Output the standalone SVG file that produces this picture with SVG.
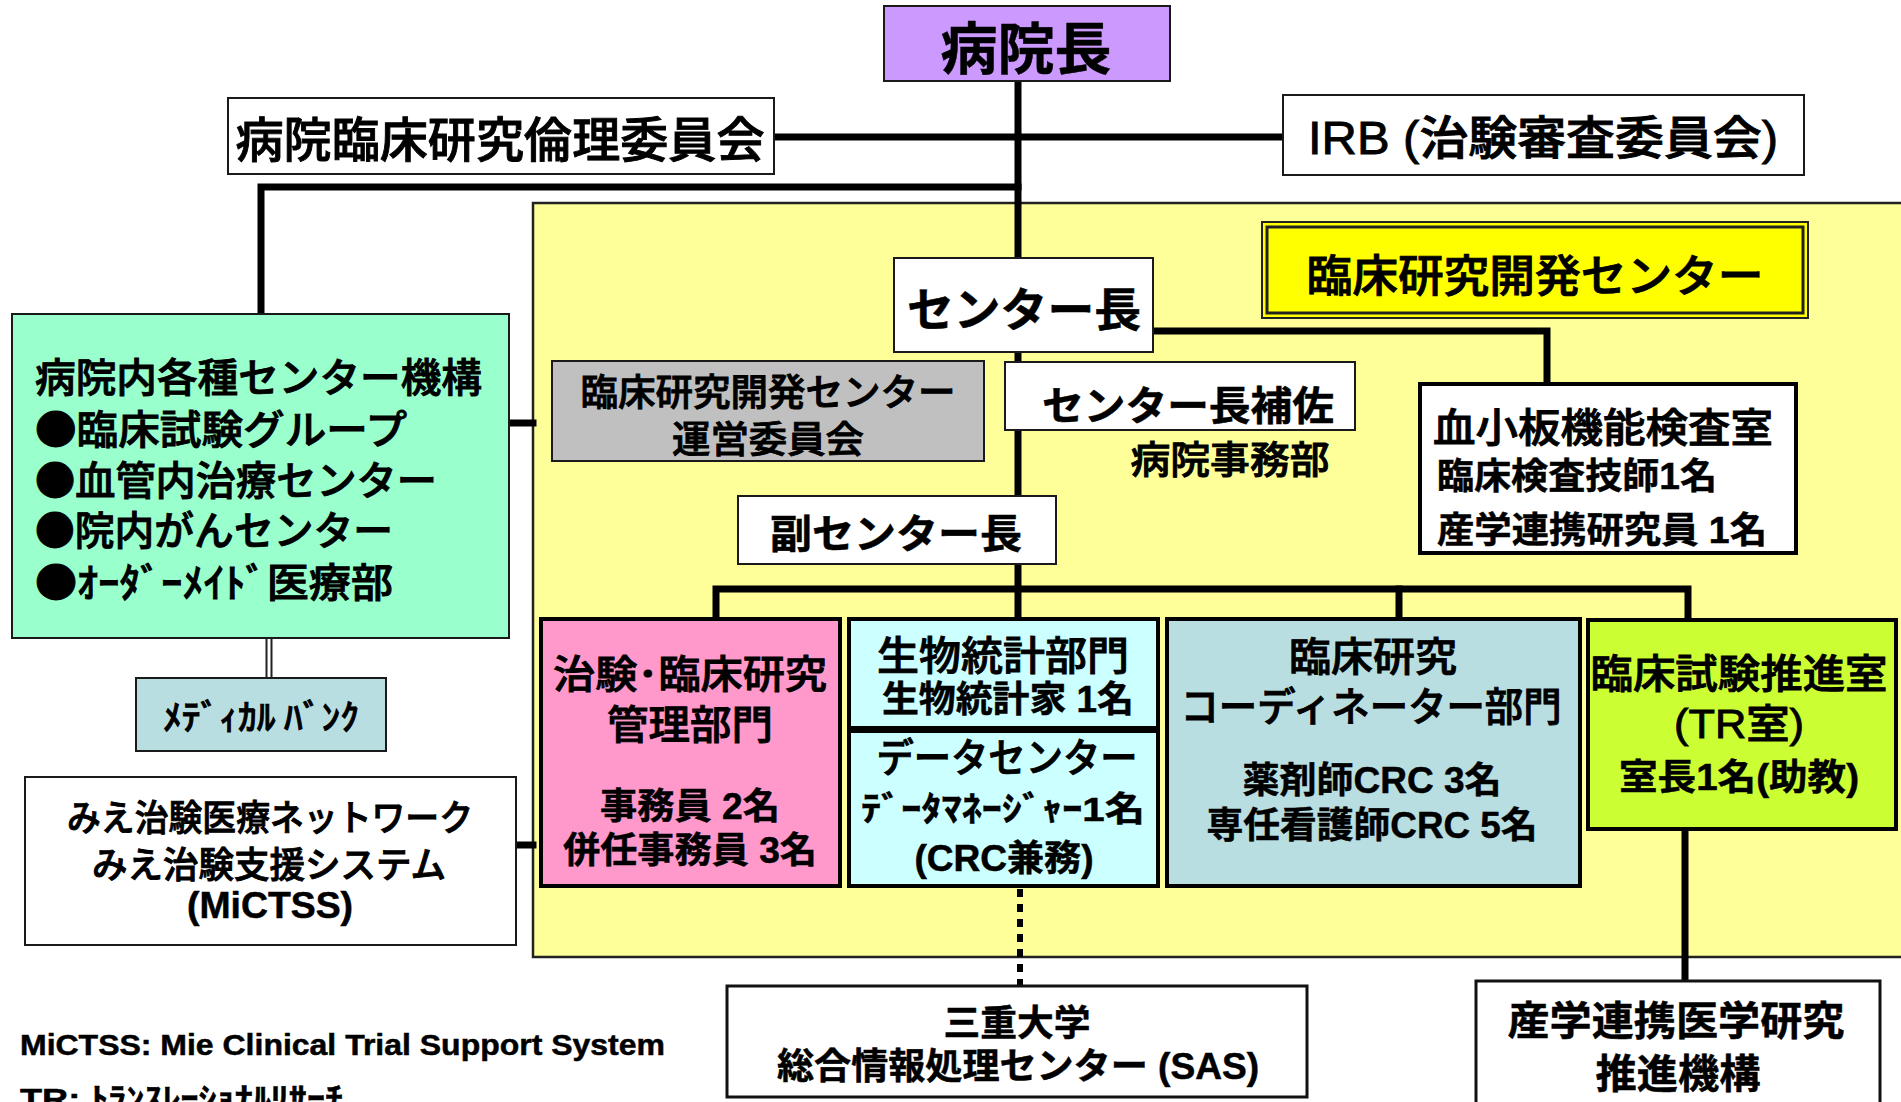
<svg xmlns="http://www.w3.org/2000/svg" width="1901" height="1102" viewBox="0 0 1901 1102">
<style>
text{font-family:"Liberation Sans","Noto Sans CJK JP",sans-serif;fill:#000}
.j{font-family:"Noto Sans CJK JP","Liberation Sans",sans-serif}
.b{font-weight:bold;stroke:#000;stroke-width:0.5px}
.m{font-weight:500;stroke:#000;stroke-width:0.9px}
.c{text-anchor:middle}
.box{stroke:#1a1a1a;stroke-width:2}
.thick{stroke:#000;stroke-width:4}
.ln{stroke:#000;stroke-width:7;fill:none;stroke-linejoin:miter;stroke-linecap:square}
</style>
<rect width="1901" height="1102" fill="#fff"/>
<g id="clinical-center-region">
<rect x="533" y="203" width="1375" height="754" fill="#FFFF99" stroke="#222" stroke-width="2.5"/>
</g>
<g id="connectors">
<path class="ln" d="M1018 81V618"/>
<path class="ln" d="M774 137H1282"/>
<path class="ln" d="M1018 187H261V314"/>
<path class="ln" d="M1153 331H1547V383"/>
<path class="ln" d="M509 423H533"/>
<path class="ln" d="M516 845H533"/>
<path class="ln" d="M716 618V589H1688V620"/>
<path class="ln" d="M1399 589V618"/>
<path class="ln" d="M1685 829V981"/>
<path d="M266.5 638V678M271.5 638V678" stroke="#222" stroke-width="2"/>
<path d="M1020 889V986" stroke="#000" stroke-width="6" stroke-dasharray="8 7"/>
</g>
<g id="hospital-director">
<rect x="884" y="6" width="286" height="75" fill="#CC99FF" class="box"/>
<text x="1026" y="69" class="j b c" font-size="56" textLength="171" lengthAdjust="spacingAndGlyphs">病院長</text>
</g>
<g id="ethics-committee">
<rect x="228" y="98" width="546" height="76" fill="#fff" class="box"/>
<text x="500" y="157" class="j m c" font-size="48" textLength="529" lengthAdjust="spacingAndGlyphs">病院臨床研究倫理委員会</text>
</g>
<g id="irb">
<rect x="1283" y="95" width="521" height="80" fill="#fff" class="box"/>
<text x="1543" y="154" class="m c" font-size="46" textLength="470" lengthAdjust="spacingAndGlyphs">IRB (治験審査委員会)</text>
</g>
<g id="center-title">
<rect x="1262" y="222" width="546" height="96" fill="#FFFF00" stroke="#222" stroke-width="2"/>
<rect x="1267" y="227" width="536" height="86" fill="none" stroke="#222" stroke-width="3"/>
<text x="1535" y="292" class="j m c" font-size="44" textLength="457" lengthAdjust="spacingAndGlyphs">臨床研究開発センター</text>
</g>
<g id="center-director">
<rect x="894" y="258" width="259" height="94" fill="#fff" class="box"/>
<text x="1024" y="326" class="j b c" font-size="46" textLength="234" lengthAdjust="spacingAndGlyphs">センター長</text>
</g>
<g id="hospital-centers">
<rect x="12" y="314" width="497" height="324" fill="#99FFCC" class="box"/>
<text x="35" y="392" class="j m" font-size="40" textLength="447" lengthAdjust="spacingAndGlyphs">病院内各種センター機構</text>
<text x="35" y="444" class="j m" font-size="40" textLength="372" lengthAdjust="spacingAndGlyphs">●臨床試験グループ</text>
<text x="35" y="495" class="j m" font-size="40" textLength="402" lengthAdjust="spacingAndGlyphs">●血管内治療センター</text>
<text x="35" y="545" class="j m" font-size="40" textLength="358" lengthAdjust="spacingAndGlyphs">●院内がんセンター</text>
<text x="35" y="597" class="j m" font-size="40" textLength="358" lengthAdjust="spacingAndGlyphs">●ｵｰﾀﾞｰﾒｲﾄﾞ医療部</text>
</g>
<g id="medical-bank">
<rect x="136" y="678" width="250" height="73" fill="#B9DEE2" class="box"/>
<text x="261" y="730" class="j m c" font-size="35" textLength="196" lengthAdjust="spacingAndGlyphs">ﾒﾃﾞｨｶﾙ ﾊﾞﾝｸ</text>
</g>
<g id="mictss">
<rect x="25" y="777" width="491" height="168" fill="#fff" class="box"/>
<text x="270" y="831" class="j m c" font-size="36" textLength="406" lengthAdjust="spacingAndGlyphs">みえ治験医療ネットワーク</text>
<text x="269" y="878" class="j m c" font-size="36" textLength="354" lengthAdjust="spacingAndGlyphs">みえ治験支援システム</text>
<text x="270" y="918" class="b c" font-size="36" textLength="166" lengthAdjust="spacingAndGlyphs">(MiCTSS)</text>
</g>
<g id="steering-committee">
<rect x="552" y="361" width="432" height="100" fill="#C0C0C0" class="box"/>
<text x="768" y="406" class="j m c" font-size="37" textLength="375" lengthAdjust="spacingAndGlyphs">臨床研究開発センター</text>
<text x="768" y="453" class="j m c" font-size="37" textLength="192" lengthAdjust="spacingAndGlyphs">運営委員会</text>
</g>
<g id="assistant-director">
<rect x="1005" y="362" width="350" height="68" fill="#fff" class="box"/>
<text x="1188" y="420" class="j b c" font-size="40" textLength="292" lengthAdjust="spacingAndGlyphs">センター長補佐</text>
<text x="1230" y="473" class="j m c" font-size="38" textLength="199" lengthAdjust="spacingAndGlyphs">病院事務部</text>
</g>
<g id="deputy-director">
<rect x="738" y="496" width="318" height="68" fill="#fff" class="box"/>
<text x="896" y="548" class="j b c" font-size="40" textLength="252" lengthAdjust="spacingAndGlyphs">副センター長</text>
</g>
<g id="platelet-lab">
<rect x="1420" y="384" width="376" height="169" fill="#fff" class="thick"/>
<text x="1433" y="442" class="j m" font-size="40" textLength="340" lengthAdjust="spacingAndGlyphs">血小板機能検査室</text>
<text x="1437" y="489" class="b" font-size="36" textLength="280" lengthAdjust="spacingAndGlyphs">臨床検査技師1名</text>
<text x="1437" y="543" class="b" font-size="36" textLength="330" lengthAdjust="spacingAndGlyphs">産学連携研究員 1名</text>
</g>
<g id="trial-management">
<rect x="541" y="619" width="299" height="267" fill="#FF99CC" class="thick"/>
<text x="690" y="688" class="j m c" font-size="39" textLength="274" lengthAdjust="spacingAndGlyphs">治験･臨床研究</text>
<text x="690" y="739" class="j m c" font-size="40" textLength="166" lengthAdjust="spacingAndGlyphs">管理部門</text>
<text x="690" y="819" class="b c" font-size="36" textLength="180" lengthAdjust="spacingAndGlyphs">事務員 2名</text>
<text x="690" y="863" class="b c" font-size="36" textLength="254" lengthAdjust="spacingAndGlyphs">併任事務員 3名</text>
</g>
<g id="biostatistics">
<rect x="849" y="619" width="309" height="109" fill="#CCFFFF" class="thick"/>
<text x="1003" y="670" class="j m c" font-size="40" textLength="252" lengthAdjust="spacingAndGlyphs">生物統計部門</text>
<text x="1008" y="712" class="b c" font-size="36" textLength="252" lengthAdjust="spacingAndGlyphs">生物統計家 1名</text>
</g>
<g id="data-center">
<rect x="849" y="731" width="309" height="155" fill="#CCFFFF" class="thick"/>
<text x="1007" y="772" class="j m c" font-size="40" textLength="261" lengthAdjust="spacingAndGlyphs">データセンター</text>
<text x="1003" y="821" class="b c" font-size="34" textLength="284" lengthAdjust="spacingAndGlyphs">ﾃﾞｰﾀﾏﾈｰｼﾞｬｰ1名</text>
<text x="1004" y="871" class="b c" font-size="36" textLength="179" lengthAdjust="spacingAndGlyphs">(CRC兼務)</text>
</g>
<g id="crc-division">
<rect x="1167" y="619" width="413" height="267" fill="#B9DEE2" class="thick"/>
<text x="1373" y="671" class="j m c" font-size="40" textLength="168" lengthAdjust="spacingAndGlyphs">臨床研究</text>
<text x="1371" y="721" class="j m c" font-size="40" textLength="381" lengthAdjust="spacingAndGlyphs">コーディネーター部門</text>
<text x="1372" y="793" class="b c" font-size="36" textLength="259" lengthAdjust="spacingAndGlyphs">薬剤師CRC 3名</text>
<text x="1372" y="838" class="b c" font-size="36" textLength="331" lengthAdjust="spacingAndGlyphs">専任看護師CRC 5名</text>
</g>
<g id="tr-office">
<rect x="1588" y="620" width="308" height="209" fill="#CCFF33" class="thick"/>
<text x="1739" y="688" class="j m c" font-size="40" textLength="297" lengthAdjust="spacingAndGlyphs">臨床試験推進室</text>
<text x="1739" y="738" class="m c" font-size="40" textLength="130" lengthAdjust="spacingAndGlyphs">(TR室)</text>
<text x="1739" y="790" class="b c" font-size="36" textLength="240" lengthAdjust="spacingAndGlyphs">室長1名(助教)</text>
</g>
<g id="mie-univ-sas">
<rect x="727" y="986" width="580" height="111" fill="#fff" stroke="#111" stroke-width="3"/>
<text x="1017" y="1036" class="j b c" font-size="36" textLength="147" lengthAdjust="spacingAndGlyphs">三重大学</text>
<text x="1018" y="1079" class="b c" font-size="36" textLength="482" lengthAdjust="spacingAndGlyphs">総合情報処理センター (SAS)</text>
</g>
<g id="industry-academia">
<rect x="1476" y="981" width="404" height="140" fill="#fff" stroke="#111" stroke-width="3"/>
<text x="1676" y="1035" class="j b c" font-size="40" textLength="337" lengthAdjust="spacingAndGlyphs">産学連携医学研究</text>
<text x="1678" y="1088" class="j b c" font-size="40" textLength="165" lengthAdjust="spacingAndGlyphs">推進機構</text>
</g>
<g id="notes">
<text x="20" y="1055" class="b" font-size="29" textLength="645" lengthAdjust="spacingAndGlyphs">MiCTSS: Mie Clinical Trial Support System</text>
<text x="20" y="1109" class="b" font-size="29" textLength="323" lengthAdjust="spacingAndGlyphs">TR: ﾄﾗﾝｽﾚｰｼｮﾅﾙﾘｻｰﾁ</text>
</g>
</svg>
